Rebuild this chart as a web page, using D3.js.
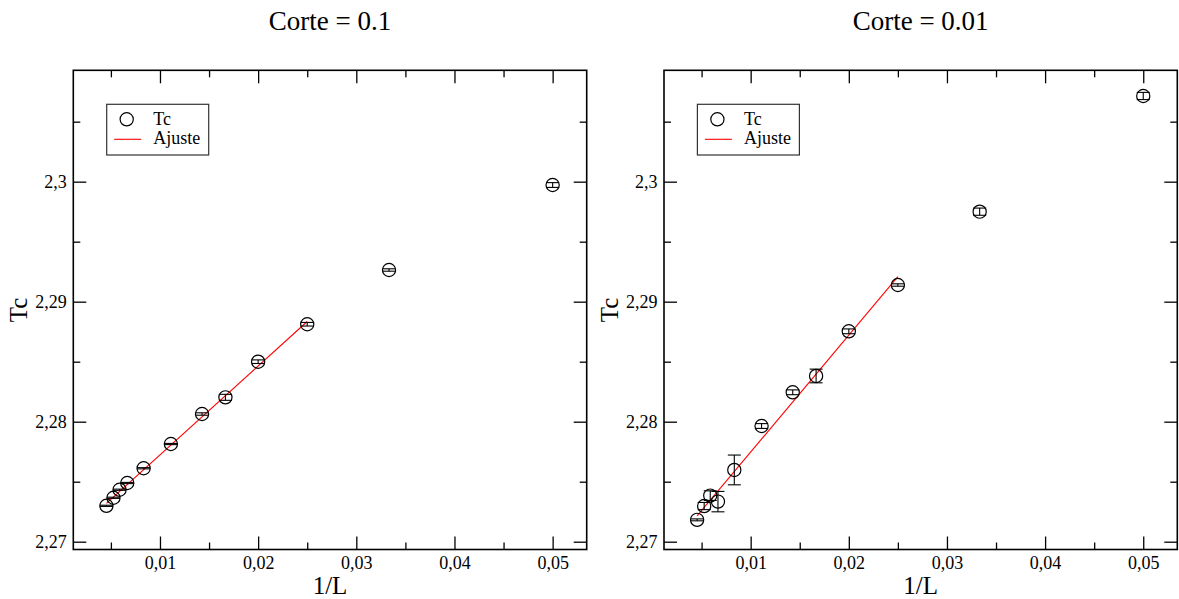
<!DOCTYPE html>
<html>
<head>
<meta charset="utf-8">
<script src="https://cdn.jsdelivr.net/npm/d3@7/dist/d3.min.js"></script>
<style>
  html, body { margin: 0; padding: 0; background: #fff; }
  svg { display: block; }
  text { font-family: "Liberation Serif", "Times New Roman", serif; fill: #000; }
</style>
</head>
<body>
<svg id="chart" width="1179" height="599"></svg>
<script>
// ---- data: critical temperature Tc versus 1/L, two cutoffs ----
const invL = [0.05, 0.033333, 0.025, 0.02, 0.016667, 0.014286, 0.011111, 0.008333, 0.006667, 0.005882, 0.005263, 0.004545];

const tcCut01 = [2.29972, 2.29264, 2.28812, 2.28500, 2.28203, 2.28064, 2.27814, 2.27612, 2.27489, 2.27433, 2.27366, 2.27299];
const errCut01 = [0.0002, 0.0001, 0.00015, 0.00015, 0.00025, 0.0001, 0.00005, 0.00005, 0.00005, 0.00005, 0.00005, 0.00005];

const tcCut001 = [2.30714, 2.29750, 2.29139, 2.28753, 2.28381, 2.28245, 2.27964, 2.27598, 2.27334, 2.27384, 2.27297, 2.27182];
const errCut001 = [0.0003, 0.0003, 0.0001, 0.0002, 0.00057, 0.0002, 0.0002, 0.00124, 0.00085, 0.0004, 0.0003, 0.00008];

// linear fits over 1/L in [1/220, 1/40]
const fitX = [0.004545, 0.025];
const fitCut01 = [2.27319, 2.28835];
const fitCut001 = [2.27216, 2.29208];

const titles = ["Corte = 0.1", "Corte = 0.01"];
const legendLabels = ["Tc", "Ajuste"];
const xLabel = "1/L";
const yLabel = "Tc";

const xTicks = [0.01, 0.02, 0.03, 0.04, 0.05];
const xTickLabels = ["0,01", "0,02", "0,03", "0,04", "0,05"];
const xMinor = [0.005, 0.015, 0.025, 0.035, 0.045];
const yTicks = [2.27, 2.28, 2.29, 2.30];
const yTickLabels = ["2,27", "2,28", "2,29", "2,3"];
const yMinor = [2.275, 2.285, 2.295, 2.305];

const xDomain = [0.00117, 0.05347];
const yDomain = [2.26935, 2.30928];

// ---- layout ----
const svg = d3.select("#chart");
const plotTop = 70.3, plotBottom = 549.5;
const panels = [
  { left: 73.3, right: 586.7, y: tcCut01, err: errCut01, fit: fitCut01, title: titles[0] },
  { left: 664, right: 1177.3, y: tcCut001, err: errCut001, fit: fitCut001, title: titles[1] }
];

const MAJOR = 13, MINOR = 7, R = 6.6, CAP = 6.5;

panels.forEach((p, pi) => {
  const x = d3.scaleLinear().domain(xDomain).range([p.left, p.right]);
  const y = d3.scaleLinear().domain(yDomain).range([plotBottom, plotTop]);
  const g = svg.append("g");

  // axes with inward ticks on all four sides
  const fmtX = v => xTickLabels[xTicks.indexOf(v)];
  const fmtY = v => yTickLabels[yTicks.indexOf(v)];

  const axes = [
    [d3.axisBottom(x).tickValues(xTicks).tickSize(-MAJOR).tickPadding(7).tickFormat(fmtX), `translate(0,${plotBottom})`],
    [d3.axisBottom(x).tickValues(xMinor).tickSize(-MINOR).tickFormat(""), `translate(0,${plotBottom})`],
    [d3.axisTop(x).tickValues(xTicks).tickSize(-MAJOR).tickFormat(""), `translate(0,${plotTop})`],
    [d3.axisTop(x).tickValues(xMinor).tickSize(-MINOR).tickFormat(""), `translate(0,${plotTop})`],
    [d3.axisLeft(y).tickValues(yTicks).tickSize(-MAJOR).tickPadding(6.5).tickFormat(fmtY), `translate(${p.left},0)`],
    [d3.axisLeft(y).tickValues(yMinor).tickSize(-MINOR).tickFormat(""), `translate(${p.left},0)`],
    [d3.axisRight(y).tickValues(yTicks).tickSize(-MAJOR).tickFormat(""), `translate(${p.right},0)`],
    [d3.axisRight(y).tickValues(yMinor).tickSize(-MINOR).tickFormat(""), `translate(${p.right},0)`]
  ];
  axes.forEach(([ax, tr]) => {
    const a = g.append("g").attr("transform", tr).call(ax);
    a.select(".domain").remove();
    a.selectAll(".tick line").attr("stroke", "#000").attr("stroke-width", 1.3);
    a.selectAll(".tick text")
      .style("font-family", '"Liberation Serif", serif')
      .style("font-size", "18px")
      .attr("fill", "#000");
  });

  // frame
  g.append("rect")
    .attr("x", p.left).attr("y", plotTop)
    .attr("width", p.right - p.left).attr("height", plotBottom - plotTop)
    .attr("fill", "none").attr("stroke", "#000").attr("stroke-width", 1.6);

  // fit line
  g.append("line")
    .attr("x1", x(fitX[0])).attr("y1", y(p.fit[0]))
    .attr("x2", x(fitX[1])).attr("y2", y(p.fit[1]))
    .attr("stroke", "#ff0000").attr("stroke-width", 1.1);

  // data points with error bars
  const pts = invL.map((v, i) => ({ x: v, y: p.y[i], e: p.err[i] }));
  const pg = g.append("g").selectAll("g").data(pts).join("g");
  pg.append("line")
    .attr("x1", d => x(d.x)).attr("x2", d => x(d.x))
    .attr("y1", d => y(d.y - d.e)).attr("y2", d => y(d.y + d.e))
    .attr("stroke", "#000").attr("stroke-width", 1.1);
  [-1, 1].forEach(s => {
    pg.append("line")
      .attr("x1", d => x(d.x) - CAP).attr("x2", d => x(d.x) + CAP)
      .attr("y1", d => y(d.y + s * d.e)).attr("y2", d => y(d.y + s * d.e))
      .attr("stroke", "#000").attr("stroke-width", 1.1);
  });
  pg.append("circle")
    .attr("cx", d => x(d.x)).attr("cy", d => y(d.y)).attr("r", R)
    .attr("fill", "none").attr("stroke", "#000").attr("stroke-width", 1.2);

  // legend
  const lx = p.left + 33.4, ly = 104.3;
  const lg = g.append("g");
  lg.append("rect").attr("x", lx).attr("y", ly).attr("width", 102).attr("height", 50.7)
    .attr("fill", "#fff").attr("stroke", "#333").attr("stroke-width", 1.2);
  lg.append("circle").attr("cx", lx + 20).attr("cy", ly + 15).attr("r", R)
    .attr("fill", "none").attr("stroke", "#000").attr("stroke-width", 1.2);
  lg.append("line").attr("x1", lx + 7.5).attr("x2", lx + 34.5).attr("y1", ly + 35).attr("y2", ly + 35)
    .attr("stroke", "#ff0000").attr("stroke-width", 1.1);
  lg.append("text").attr("x", lx + 46.5).attr("y", ly + 20.5).style("font-size", "18px").text(legendLabels[0]);
  lg.append("text").attr("x", lx + 46.5).attr("y", ly + 40).style("font-size", "18px").text(legendLabels[1]);

  // titles and axis labels
  const cx = (p.left + p.right) / 2;
  g.append("text").attr("x", cx).attr("y", 29.5).attr("text-anchor", "middle")
    .style("font-size", "27px").text(p.title);
  g.append("text").attr("x", cx).attr("y", 594).attr("text-anchor", "middle")
    .style("font-size", "25px").text(xLabel);
  g.append("text")
    .attr("transform", `translate(${p.left - 46},${(plotTop + plotBottom) / 2}) rotate(-90)`)
    .attr("text-anchor", "middle")
    .style("font-size", "25px").text(yLabel);
});
</script>
</body>
</html>
